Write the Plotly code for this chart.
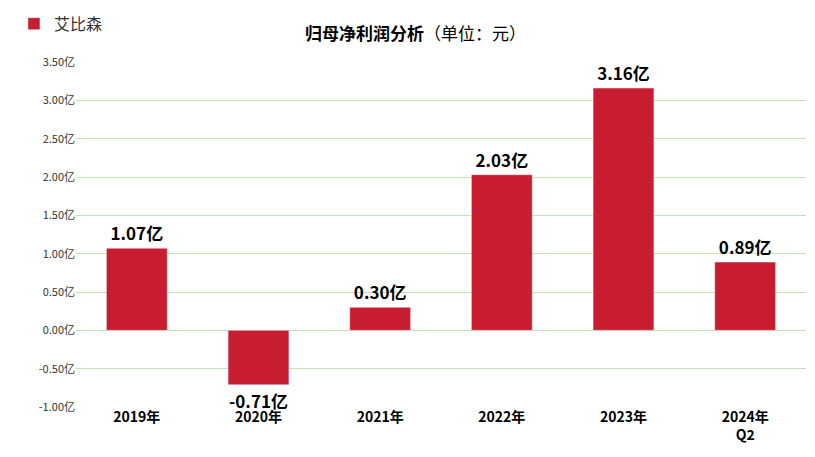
import plotly.graph_objects as go

categories = ["2019年", "2020年", "2021年", "2022年", "2023年", "2024年<br>Q2"]
values = [1.07, -0.71, 0.30, 2.03, 3.16, 0.89]
tick_vals = [-1.0, -0.5, 0, 0.5, 1.0, 1.5, 2.0, 2.5, 3.0, 3.5]
tick_text = [f"{v:.2f}亿" for v in tick_vals]
labels = [f"<b>{v:.2f}亿</b>" for v in values]

font = "Noto Sans CJK SC"
fig = go.Figure(go.Bar(
    x=categories, y=values, name="艾比森", marker_color="#C81D31",
    text=labels, textposition="outside", cliponaxis=False,
    textfont=dict(size=17, color="black", family=font),
))
fig.update_layout(
    width=815, height=457, plot_bgcolor="white", paper_bgcolor="white",
    margin=dict(l=68, r=17, t=54, b=58, autoexpand=False),
    bargap=0.5, showlegend=True,
    legend=dict(x=-0.085, y=1.16, xanchor="left", yanchor="top",
                font=dict(size=16, family=font, color="#333")),
    title=dict(text="<b>归母净利润分析</b>（单位：元）", x=0.5, y=0.955, xanchor="center",
               font=dict(size=17, family=font, color="black")),
    font=dict(family=font),
)
fig.update_yaxes(range=[-1.0, 3.5], tickvals=tick_vals, ticktext=tick_text,
                 gridcolor="#C6E0B4", zeroline=False, tickfont=dict(size=11, color="#333"))
fig.update_xaxes(tickfont=dict(size=14, color="black", family=font), ticklabelstandoff=0,
                 tickprefix="<b>", ticksuffix="</b>")
fig.write_html("out.html")
